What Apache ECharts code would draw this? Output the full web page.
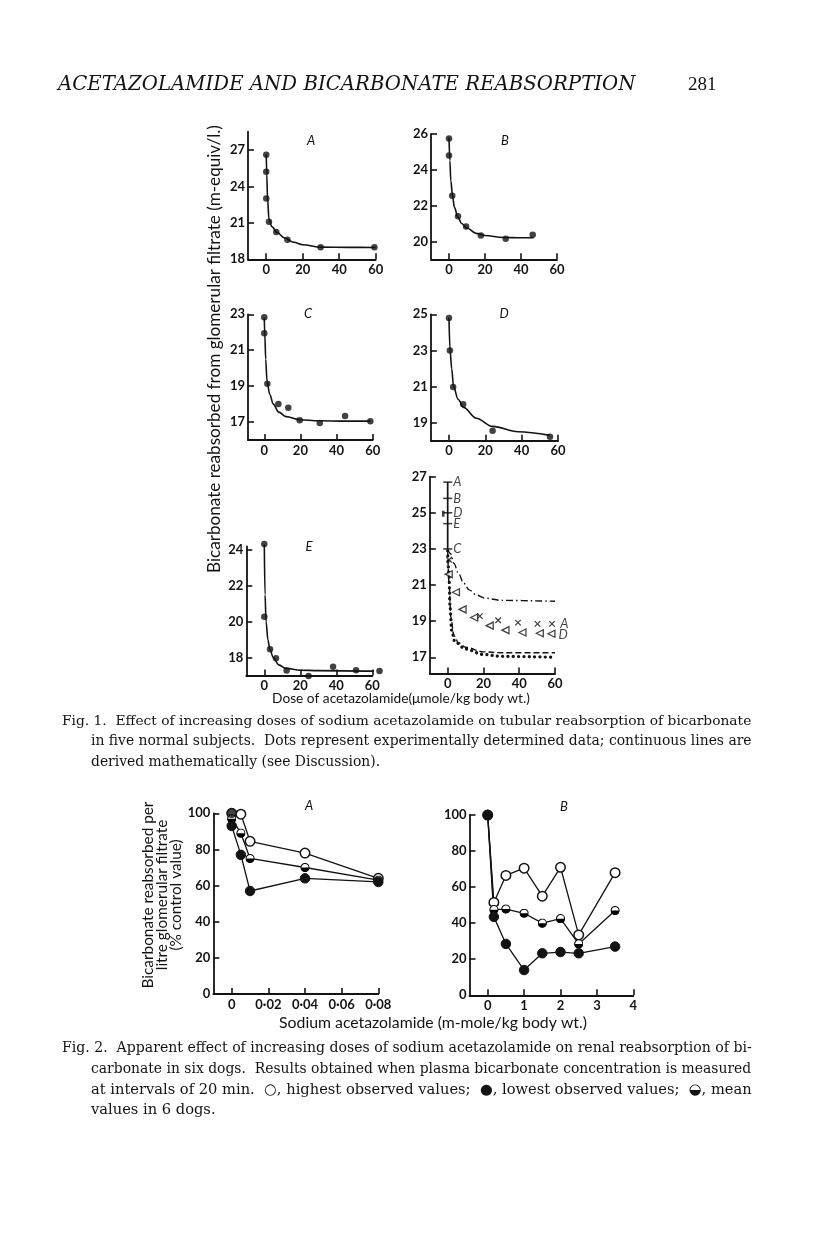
<!DOCTYPE html>
<html><head><meta charset="utf-8">
<script src="https://cdn.jsdelivr.net/npm/echarts@6/dist/echarts.min.js"></script>
<style>html,body{margin:0;padding:0;background:#fff}#c{width:816px;height:1234px}</style>
</head><body><div id="c"></div>
<script>
// ---------------- DATA ----------------
// Fig. 1 panels: dose (umole/kg) vs bicarbonate reabsorbed (m-equiv/l.)
const dotsA  = [[0,26.6],[0,25.2],[0,23.0],[1.5,21.1],[5.5,20.25],[11.6,19.6],[29.8,19.0],[59.3,19.0]];
const curveA = [[0,26.6],[0.3,25.0],[0.7,23.0],[1.5,21.3],[3,20.7],[6,20.2],[10,19.75],[15,19.4],[20,19.2],[30,19.0],[45,18.98],[60,18.97]];
const dotsB  = [[0,25.75],[0,24.8],[1.8,22.55],[5,21.4],[9.5,20.83],[17.7,20.33],[31.5,20.15],[46.5,20.37]];
const curveB = [[0,25.8],[0.5,24.5],[1,23.4],[2,22.5],[3,21.9],[5,21.35],[7,21.0],[10,20.75],[15,20.45],[20,20.33],[30,20.22],[40,20.2],[47,20.2]];
const dotsC  = [[0,22.83],[0,21.94],[1.7,19.13],[7.8,18.0],[13.3,17.8],[19.6,17.1],[30.7,16.95],[44.7,17.33],[58.7,17.05]];
const curveC = [[0,22.8],[0.3,21.9],[0.8,20.5],[1.5,19.3],[3,18.55],[5,18.0],[8,17.55],[12,17.3],[20,17.13],[30,17.07],[45,17.05],[58.7,17.05]];
const dotsD  = [[0,24.8],[0.5,23.0],[2.3,20.98],[7.8,20.02],[24,18.56],[55.6,18.22]];
const curveD = [[0,24.8],[0.6,23.0],[1.5,22.0],[2.5,21.0],[5,20.3],[8,19.85],[15,19.25],[24,18.8],[38,18.5],[55.6,18.3]];
const dotsE  = [[0,24.33],[0,20.28],[3.2,18.47],[6.5,17.97],[12.4,17.28],[24.6,16.98],[38.2,17.5],[51,17.3],[64,17.26]];
const curveE = [[0,24.3],[0.4,21.5],[1,20.0],[2,19.0],[3,18.5],[5,18.0],[8,17.6],[12,17.4],[20,17.3],[30,17.28],[62,17.25]];
// combined panel
const stemF       = [[0,26.7],[0,23.0]];
const stemValues  = [26.7,25.8,25.0,24.4,23.0];
const stemLabels  = ['A','B','D','E','C'];
const markF       = [[-2.5,24.95]];
const curveFB     = [[0,23.0],[1.5,22.75],[3.5,22.2],[6,21.65],[9,21.1],[12,20.73],[16,20.45],[21,20.27],[30,20.15],[60,20.1]];
const crossesFA   = [[0.8,22.4],[18,19.28],[28.2,19.05],[39.3,18.92],[50.2,18.85],[58.3,18.85]];
const trianglesFD = [[0.6,21.6],[4.6,20.6],[8.3,19.65],[14.8,19.2],[23.5,18.75],[32.3,18.5],[41.8,18.37],[51.5,18.33],[58,18.3]];
const curveFE     = [[0,22.9],[0.8,21.0],[1.8,19.2],[3.5,18.2],[6,17.8],[10,17.55],[20,17.3],[30,17.25],[60,17.25]];
const curveFC     = [[0,22.9],[0.7,21.6],[1.3,19.8],[2.2,18.5],[4,17.85],[10,17.45],[20,17.15],[30,17.05],[60,17.0]];
const endLabelsF  = ['B','A','D','E','C'];
// Fig. 1 tick labels
const fig1XTicks = [0,20,40,60];
const yTicksA = [18,21,24,27];
const yTicksB = [20,22,24,26];
const yTicksC = [17,19,21,23];
const yTicksD = [19,21,23,25];
const yTicksE = [18,20,22,24];
const yTicksF = [17,19,21,23,25,27];
// Fig. 2: dose (m-mole/kg) vs % control value
const highA = [[0,100],[0.005,99.5],[0.01,84.5],[0.04,78],[0.08,64]];
const meanA = [[0,97],[0.005,89],[0.01,75],[0.04,70],[0.08,63]];
const lowA  = [[0,93],[0.005,77],[0.01,57],[0.04,64],[0.08,62]];
const controlA = [[0,100]];
const highB = [[0,100],[0.17,51.5],[0.5,66.5],[1,70.5],[1.5,55],[2,71],[2.5,33.5],[3.5,68]];
const meanB = [[0,100],[0.17,47.5],[0.5,47.8],[1,45.5],[1.5,40],[2,42.5],[2.5,28.5],[3.5,47]];
const lowB  = [[0,100],[0.17,43.5],[0.5,28.5],[1,14],[1.5,23.3],[2,24],[2.5,23.3],[3.5,27]];
const fig2YTicks = [0,20,40,60,80,100];
const fig2AXTicks = [0,0.02,0.04,0.06,0.08];
const fig2AXLabels = ['0','0·02','0·04','0·06','0·08'];
const fig2BXTicks = [0,1,2,3,4];

// ---------------- TEXT ----------------
const headerText = 'ACETAZOLAMIDE AND BICARBONATE REABSORPTION';
const pageNumber = '281';
const fig1YLabel = 'Bicarbonate reabsorbed from glomerular filtrate (m-equiv/l.)';
const fig1XLabel = 'Dose of acetazolamide(\u03bcmole/kg body wt.)';
const fig2YLabel = ['Bicarbonate reabsorbed per','litre glomerular filtrate','(% control value)'];
const fig2XLabel = 'Sodium acetazolamide (m-mole/kg body wt.)';
const cap1 = ['Fig. 1.  Effect of increasing doses of sodium acetazolamide on tubular reabsorption of bicarbonate',
  'in five normal subjects.  Dots represent experimentally determined data; continuous lines are',
  'derived mathematically (see Discussion).'];
const cap2 = ['Fig. 2.  Apparent effect of increasing doses of sodium acetazolamide on renal reabsorption of bi-',
  'carbonate in six dogs.  Results obtained when plasma bicarbonate concentration is measured',
  'at intervals of 20 min.  \u25CB, highest observed values;  \u25CF, lowest observed values;  \u25D2, mean',
  'values in 6 dogs.'];

// ---------------- STYLE ----------------
const ink = '#131313';
const sans = 'Lato, "Open Sans", sans-serif';
const serif = '"DejaVu Serif", serif';
const ctx = document.createElement('canvas').getContext('2d');
function fit(text, fontTpl, target){ ctx.font = fontTpl.replace('{s}','100px'); return 100*target/ctx.measureText(text).width; }

const halfSvg = "<svg xmlns='http://www.w3.org/2000/svg' width='20' height='20'><circle cx='10' cy='10' r='8.6' fill='white' stroke='black' stroke-width='2.2'/><path d='M1.4,10 A8.6,8.6 0 0 0 18.6,10 Z' fill='black'/></svg>";
const halfSym = 'image://data:image/svg+xml;utf8,' + encodeURIComponent(halfSvg);

const grids = [], xAxes = [], yAxes = [], series = [];
function addPanel(rect, xr, yr, xt, yt, xFmt){
  const i = grids.length;
  grids.push({left:rect[0], top:rect[1], width:rect[2], height:rect[3]});
  const axLine = {show:true, onZero:false, lineStyle:{color:ink, width:1.8}};
  const tick = (vals)=>({show:true, inside:true, length:6, customValues:vals, lineStyle:{color:ink,width:1.6}});
  xAxes.push({gridIndex:i, type:'value', min:xr[0], max:xr[1], axisLine:axLine, axisTick:tick(xt),
    axisLabel:{customValues:xt, color:ink, fontFamily:sans, fontWeight:'bold', fontSize:13, margin:4,
      formatter: xFmt || (v=>String(v))}, splitLine:{show:false}});
  yAxes.push({gridIndex:i, type:'value', min:yr[0], max:yr[1], axisLine:axLine, axisTick:tick(yt),
    axisLabel:{customValues:yt, color:ink, fontFamily:sans, fontWeight:'bold', fontSize:13, margin:3}, splitLine:{show:false}});
  return i;
}
function curve(i, data, extra){
  series.push(Object.assign({type:'line', xAxisIndex:i, yAxisIndex:i, data:data, smooth:0.35, smoothMonotone:'x',
    showSymbol:false, symbol:'none', clip:false, lineStyle:{color:ink, width:1.6}, silent:true, z:2}, extra||{}));
}
function dots(i, data, size){
  series.push({type:'scatter', xAxisIndex:i, yAxisIndex:i, data:data, symbol:'circle', symbolSize:size||6.5,
    clip:false, itemStyle:{color:ink}, silent:true, z:3});
}

const pA = addPanel([248,131.7,127.7,127.6], [-10,60], [18,28.5], fig1XTicks, yTicksA);
curve(pA, curveA); dots(pA, dotsA);
const pB = addPanel([431,134,126,125.3], [-10,60], [19,26], fig1XTicks, yTicksB);
curve(pB, curveB); dots(pB, dotsB);
const pC = addPanel([248,314.3,124.7,125.7], [-9,60], [16,23], fig1XTicks, yTicksC);
curve(pC, curveC); dots(pC, dotsC);
const pD = addPanel([430.8,314.3,127.2,126.5], [-10,60], [18,25], fig1XTicks, yTicksD);
curve(pD, curveD); dots(pD, dotsD);
const pE = addPanel([246.3,546.4,126,129.2], [-10,60], [17,24.2], fig1XTicks, yTicksE);
curve(pE, curveE); dots(pE, dotsE);
const pF = addPanel([429.8,476.7,125.2,196.8], [-10,60], [16.1,27], fig1XTicks, yTicksF);

// combined panel
const lblF = {show:true, position:'right', color:ink, fontFamily:sans, fontStyle:'italic', fontSize:13, distance:3};
series.push({type:'line', xAxisIndex:pF, yAxisIndex:pF, data:stemF, symbol:'none', lineStyle:{color:ink,width:1.7}, silent:true});
series.push({type:'scatter', xAxisIndex:pF, yAxisIndex:pF, symbol:'rect', symbolSize:[9,1.6], itemStyle:{color:ink}, silent:true,
  data: stemValues.map((v,k)=>({value:[0,v], label:Object.assign({}, lblF, {formatter:stemLabels[k], distance:1})}))});
series.push({type:'scatter', xAxisIndex:pF, yAxisIndex:pF, symbol:'rect', symbolSize:[2.6,6], itemStyle:{color:ink}, data:markF, silent:true});
function withEndLabel(data, text, off){
  return data.map((p,k)=> k===data.length-1 ? {value:p, label:Object.assign({}, lblF, {formatter:text, offset:off||[0,0]})} : p);
}
curve(pF, withEndLabel(curveFB, endLabelsF[0], [0,2]), {lineStyle:{color:ink, width:1.4, type:[7,3,1.5,3]}, symbol:'none'});
series.push({type:'scatter', xAxisIndex:pF, yAxisIndex:pF, silent:true,
  symbol:'path://M0,0L10,10M10,0L0,10', symbolSize:5.5, itemStyle:{color:'none', borderColor:ink, borderWidth:1.3},
  data: withEndLabel(crossesFA, endLabelsF[1], [0,0])});
series.push({type:'scatter', xAxisIndex:pF, yAxisIndex:pF, silent:true,
  symbol:'triangle', symbolRotate:90, symbolSize:7, itemStyle:{color:'#fff', borderColor:ink, borderWidth:1.3},
  data: withEndLabel(trianglesFD, endLabelsF[2], [0,1])});
curve(pF, withEndLabel(curveFE, endLabelsF[3], [0,-2]), {lineStyle:{color:ink, width:1.4, type:[6,3]}, symbol:'none'});
curve(pF, withEndLabel(curveFC, endLabelsF[4], [0,3]), {lineStyle:{color:ink, width:3.2, type:[0.1,5.2], cap:'round'}, symbol:'none'});

// Fig 2
const p2A = addPanel([213.4,813.3,164.9,180.7], [-0.01,0.08], [0,100], fig2AXTicks, fig2YTicks,
  v=>{const k=fig2AXTicks.findIndex(t=>Math.abs(t-v)<1e-9); return k>=0?fig2AXLabels[k]:'';});
const p2B = addPanel([469.5,815,163.8,180.3], [-0.5,4], [0,100], fig2BXTicks, fig2YTicks);
function f2(i, data, kind){
  const base = {type:'line', xAxisIndex:i, yAxisIndex:i, data:data, symbolSize:9.5, showSymbol:true,
    lineStyle:{color:ink, width:1.3}, silent:true, z:3};
  if(kind==='high') Object.assign(base,{symbol:'circle', itemStyle:{color:'#fff', borderColor:ink, borderWidth:1.5}});
  if(kind==='mean') Object.assign(base,{symbol:halfSym, itemStyle:{color:ink}});
  if(kind==='low') Object.assign(base,{symbol:'circle', itemStyle:{color:ink, borderColor:ink, borderWidth:1}});
  series.push(base);
}
f2(p2A, highA, 'high'); f2(p2A, meanA, 'mean'); f2(p2A, lowA, 'low');
series.push({type:'scatter', xAxisIndex:p2A, yAxisIndex:p2A, data:controlA, symbol:'circle', symbolSize:10, itemStyle:{color:ink}, z:4, silent:true});
f2(p2B, highB, 'high'); f2(p2B, meanB, 'mean'); f2(p2B, lowB, 'low');

// ---------------- TEXT GRAPHICS ----------------
const g = [];
function txt(text, x, y, font, opts){
  g.push(Object.assign({type:'text', x:x, y:y, silent:true,
    style:{text:text, font:font, fill:ink, textAlign:(opts&&opts.align)||'left', textVerticalAlign:'middle',
      align:(opts&&opts.align)||'left', verticalAlign:'middle'}}, (opts&&opts.rotation!=null)?{rotation:opts.rotation}:{}));
}
const hdrTpl = 'italic normal {s} ' + serif;
const hs = fit(headerText, hdrTpl, 578);
txt(headerText, 58, 85, hdrTpl.replace('{s}', hs+'px'));
txt(pageNumber, 688, 85, 'normal 19px "Liberation Serif", serif');

const capTpl = 'normal {s} ' + serif;
function caption(lines, ys, full){
  let last = 13;
  lines.forEach((l,k)=>{
    const x = k===0 ? 62 : 91;
    let s = full[k] ? fit(l, capTpl, 752-x) : last;
    last = s;
    txt(l, x, ys[k], capTpl.replace('{s}', s+'px'));
  });
}
caption(cap1, [721,741.5,762], [true,true,false]);
caption(cap2, [1048,1069,1090,1110.5], [true,true,true,false]);

const labTpl = 'normal {s} ' + sans;
txt(fig1YLabel, 214, 349, labTpl.replace('{s}', fit(fig1YLabel, labTpl, 448)+'px'), {align:'center', rotation:Math.PI/2});
txt(fig1XLabel, 401, 699, labTpl.replace('{s}', fit(fig1XLabel, labTpl, 258)+'px'), {align:'center'});
const f2s = fit(fig2YLabel[0], labTpl, 187);
[148,162,176.5].forEach((x,k)=> txt(fig2YLabel[k], x, 895, labTpl.replace('{s}', f2s+'px'), {align:'center', rotation:Math.PI/2}));
txt(fig2XLabel, 433, 1023, labTpl.replace('{s}', fit(fig2XLabel, labTpl, 308)+'px'), {align:'center'});

const letTpl = 'italic normal 13px ' + sans;
[['A',311,141],['B',505,141],['C',308,314],['D',504,314],['E',309,547],['A',309,806],['B',564,807]]
  .forEach(a=>txt(a[0], a[1], a[2], letTpl, {align:'center'}));

const chart = echarts.init(document.getElementById('c'), null, {renderer:'canvas'});
chart.setOption({backgroundColor:'#fff', animation:false, grid:grids, xAxis:xAxes, yAxis:yAxes, series:series, graphic:g});
</script>
</body></html>
